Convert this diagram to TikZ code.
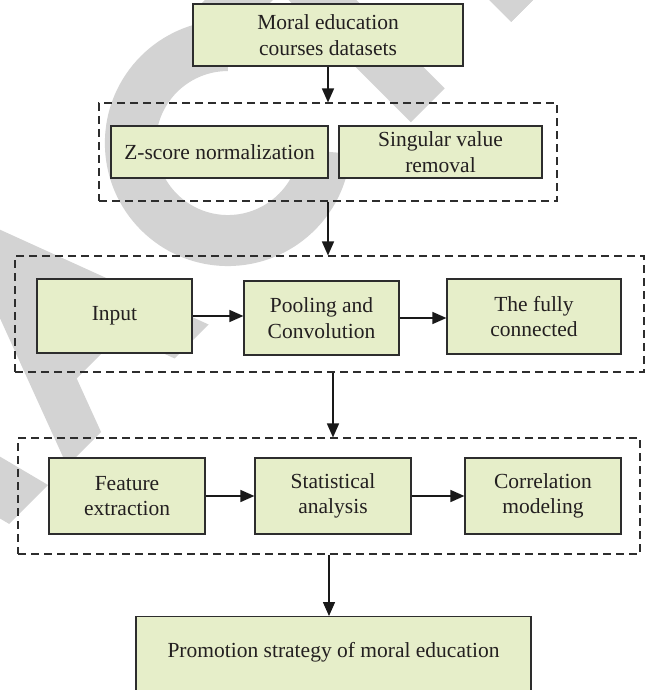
\documentclass[tikz,border=0pt]{standalone}
\usepackage{fontspec}
\setmainfont{Liberation Serif}
\usetikzlibrary{arrows.meta}
\definecolor{boxfill}{RGB}{230,238,201}
\definecolor{boxline}{RGB}{45,45,45}
\definecolor{wmgray}{RGB}{211,211,211}
\definecolor{txt}{RGB}{35,31,32}
\begin{document}
\begin{tikzpicture}[x=1pt,y=-1pt,
  stepbox/.style={draw=boxline, line width=1.2pt, fill=boxfill, inner sep=0pt, align=center, text=txt, font=\fontsize{21.5}{25.5}\selectfont},
  groupbox/.style={draw=boxline, line width=1.1pt, dash pattern=on 8pt off 5pt, inner sep=0pt},
  arr/.style={draw=black!90, line width=1.5pt, -{Triangle[length=14pt,width=12pt]}},
  wm/.style={fill=wmgray}]
\useasboundingbox (0,0) rectangle (652,690);
\clip (0,0) rectangle (652,690);
% watermark (rotated lettering)
\begin{scope}[shift={(266.5pt,-266.5pt)}, rotate=45]
  % R leg
  \fill[wm] (-364pt,0pt) -- (-309pt,0pt) -- (-345pt,140pt) -- (-400pt,140pt) -- cycle;
  % A
  \fill[wm,even odd rule] (-282pt,0pt) -- (-195pt,232pt) -- (-169pt,232pt) -- (-82pt,0pt) -- (-130pt,0pt)
     -- (-150.6pt,55pt) -- (-213.4pt,55pt) -- (-234pt,0pt) -- cycle
     (-196.5pt,100pt) -- (-167.5pt,100pt) -- (-182pt,139pt) -- cycle;
  % C
  \begin{scope}[shift={(60pt,114.6pt)}]
    \fill[wm] (45:123pt) arc[start angle=45, end angle=310, radius=123pt]
      -- (310:72pt) arc[start angle=310, end angle=45, radius=72pt] -- cycle;
  \end{scope}
  % T
  \fill[wm] (204pt,0pt) rectangle (252pt,232pt);
  \fill[wm] (134pt,184pt) rectangle (322pt,232pt);
  % E
  \fill[wm] (346pt,0pt) rectangle (394pt,232pt);
  \fill[wm] (346pt,0pt) rectangle (486pt,44pt);
\end{scope}

\node[stepbox, minimum width=270pt, minimum height=62pt] (src) at (328,35) {Moral education\\courses datasets};
\node[groupbox, minimum width=458pt, minimum height=98pt] (g1) at (328,152) {};
\node[stepbox, minimum width=217pt, minimum height=52pt] (zs) at (219.5,152) {Z-score normalization};
\node[stepbox, minimum width=203pt, minimum height=52pt] (sv) at (440.5,152) {Singular value\\removal};

\node[groupbox, minimum width=629pt, minimum height=116pt] (g2) at (329.5,314) {};
\node[stepbox, minimum width=155pt, minimum height=74pt] (in) at (114.5,316) {Input};
\node[stepbox, minimum width=155pt, minimum height=74pt] (pc) at (321.5,318) {Pooling and\\Convolution};
\node[stepbox, minimum width=174pt, minimum height=75pt] (fc) at (534,316.5) {The fully\\connected};

\node[groupbox, minimum width=622pt, minimum height=116pt] (g3) at (329,496) {};
\node[stepbox, minimum width=156pt, minimum height=76pt] (fe) at (127,496) {Feature\\extraction};
\node[stepbox, minimum width=156pt, minimum height=76pt] (sa) at (333,496) {Statistical\\analysis};
\node[stepbox, minimum width=156pt, minimum height=76pt] (cm) at (543,496) {Correlation\\modeling};

\node[stepbox, minimum width=395pt, minimum height=90pt, anchor=north] (ps) at (333.5,616) {};
\node[text=txt, inner sep=0pt, font=\fontsize{21.5}{25.5}\selectfont] (pst) at (333.5,652) {Promotion strategy of moral education};

\draw[arr] (src.south) -- (g1.north);
\draw[arr] (g1.south) -- (g1.south |- g2.north);
\draw[arr] ([xshift=3.5pt]g2.south) -- ([xshift=3.5pt]g2.south |- g3.north);
\draw[arr] (g3.south) -- (g3.south |- ps.north);
\draw[arr] (in.east) -- (in.east -| pc.west);
\draw[arr] (pc.east) -- (pc.east -| fc.west);
\draw[arr] (fe.east) -- (fe.east -| sa.west);
\draw[arr] (sa.east) -- (sa.east -| cm.west);
\end{tikzpicture}
\end{document}
